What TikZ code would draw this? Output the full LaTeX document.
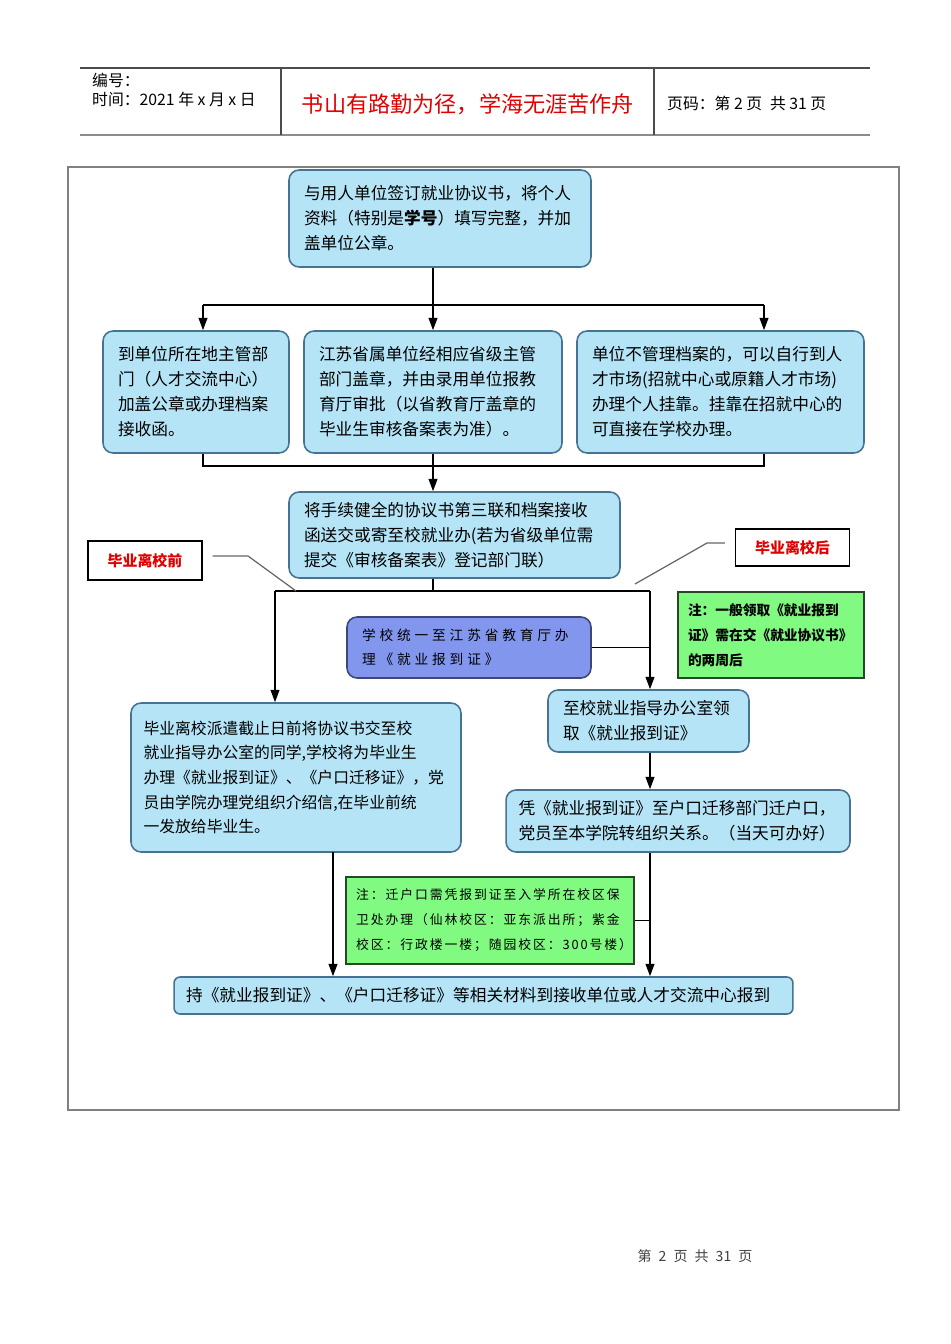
\documentclass[tikz,border=0pt]{standalone}
\usepackage{fontspec}
\setmainfont{Noto Sans CJK SC}
\newfontfamily\widefont[LetterSpace=28]{Noto Sans CJK SC}
\newfontfamily\notefont[LetterSpace=15]{Noto Sans CJK SC}
\usetikzlibrary{arrows.meta}
\definecolor{boxblue}{RGB}{180,228,246}
\definecolor{boxedge}{RGB}{70,115,145}
\definecolor{schoolblue}{RGB}{130,150,238}
\definecolor{schooledge}{RGB}{60,70,120}
\definecolor{notegreen}{RGB}{128,250,128}
\definecolor{noteedge}{RGB}{40,70,40}
\definecolor{mottored}{RGB}{225,0,0}

\begin{document}
\begin{tikzpicture}[x=0.02cm,y=-0.02cm,
  >={Triangle[length=7pt,width=5pt]},
  flow/.style={draw=boxedge, fill=boxblue, rounded corners=0.2cm, line width=0.9pt,
    align=left, inner xsep=0.3cm, font=\fontsize{9.5}{14.2}\selectfont},
  school/.style={draw=schooledge, fill=schoolblue, rounded corners=0.2cm, line width=0.9pt,
    align=left, inner xsep=0.3cm, font=\widefont\fontsize{7.8}{13.6}\selectfont},
  note/.style={draw=noteedge, fill=notegreen, line width=0.8pt, align=left, inner xsep=0.2cm},
  tag/.style={draw, fill=white, line width=0.8pt, minimum width=2.28cm, minimum height=0.78cm,
    text=mottored, font=\bfseries\fontsize{8.5}{10}\selectfont},
  head/.style={anchor=west, font=\fontsize{9}{11}\selectfont},
  link/.style={line width=0.8pt}]
\useasboundingbox (0,0) rectangle (950,1344);

% header
\draw[black!70, line width=0.6pt] (80,68) -- (870,68);
\draw[black!45, line width=1.2pt] (80,135) -- (870,135);
\draw[black!70, line width=0.6pt] (281,68) -- (281,135);
\draw[black!70, line width=0.6pt] (654,68) -- (654,135);
\node[head] (serial) at (86,80) {编号：};
\node[head] (date) at (86,99) {时间：2021 年 x 月 x 日};
\node[text=mottored, font=\fontsize{12.6}{14}\selectfont] (motto) at (468,104) {书山有路勤为径，学海无涯苦作舟};
\node[head] (pageno) at (661,103) {页码：第 2 页\enspace 共 31 页};

% frame
\draw[black!50, line width=0.7pt] (68,167) rectangle (899,1110);

% boxes
\node[flow, text width=5.44cm, minimum height=1.94cm] (sign) at (440,218.5)
  {与用人单位签订就业协议书，将个人\\资料（特别是\textbf{学号}）填写完整，并加\\盖单位公章。};
\node[flow, text width=3.12cm, minimum height=2.44cm] (local) at (196,392)
  {到单位所在地主管部\\门（人才交流中心）\\加盖公章或办理档案\\接收函。};
\node[flow, text width=4.56cm, minimum height=2.44cm] (prov) at (433,392)
  {江苏省属单位经相应省级主管\\部门盖章，并由录用单位报教\\育厅审批（以省教育厅盖章的\\毕业生审核备案表为准）。};
\node[flow, text width=5.14cm, minimum height=2.44cm] (market) at (720.5,392)
  {单位不管理档案的，可以自行到人\\才市场(招就中心或原籍人才市场)\\办理个人挂靠。挂靠在招就中心的\\可直接在学校办理。};
\node[flow, text width=6.02cm, minimum height=1.72cm] (submit) at (454.5,535)
  {将手续健全的协议书第三联和档案接收\\函送交或寄至校就业办(若为省级单位需\\提交《审核备案表》登记部门联）};

\node[tag] (before) at (145,560.5) {毕业离校前};
\node[tag, minimum height=0.74cm] (after) at (792.5,547.5) {毕业离校后};

\node[school, text width=4.28cm, minimum height=1.22cm] (school) at (469,647.5)
  {学校统一至江苏省教育厅办\\理《就业报到证》};
\node[note, text width=3.32cm, minimum height=1.72cm, font=\bfseries\fontsize{7.8}{14.2}\selectfont] (note1) at (771,635)
  {注：一般领取《就业报到\\证》需在交《就业协议书》\\的两周后};

\node[flow, text width=6.1cm, inner xsep=0.25cm, minimum height=2.98cm, font=\fontsize{9}{14}\selectfont] (leftbig) at (296,777.5)
  {毕业离校派遣截止日前将协议书交至校\\就业指导办公室的同学,学校将为毕业生\\办理《就业报到证》、《户口迁移证》，党\\员由学院办理党组织介绍信,在毕业前统\\一发放给毕业生。};
\node[flow, text width=3.42cm, minimum height=1.24cm] (fetch) at (648.5,721)
  {至校就业指导办公室领\\取《就业报到证》};
\node[flow, text width=6.38cm, inner xsep=0.25cm, minimum height=1.24cm] (hukou) at (678,821)
  {凭《就业报到证》至户口迁移部门迁户口，\\党员至本学院转组织关系。（当天可办好）};
\node[note, text width=5.36cm, minimum height=1.74cm, font=\notefont\fontsize{7.3}{14.2}\selectfont] (note2) at (490,920.5)
  {注：迁户口需凭报到证至入学所在校区保\\卫处办理（仙林校区：亚东派出所；紫金\\校区：行政楼一楼；随园校区：300号楼）};
\node[flow, text width=11.9cm, inner xsep=0.24cm, minimum height=0.74cm, rounded corners=0.12cm] (report) at (483.5,995.5)
  {持《就业报到证》、《户口迁移证》等相关材料到接收单位或人才交流中心报到};

% connectors
\coordinate (split1) at (433,305);
\coordinate (s1l) at (203,305);
\coordinate (s1r) at (764,305);
\draw[link] (sign.south -| split1) -- (split1);
\draw[link] (s1l) -- (s1r);
\draw[link,->] (s1l) -- (s1l |- local.north);
\draw[link,->] (split1) -- (prov.north);
\draw[link,->] (s1r) -- (s1r |- market.north);

\coordinate (m1l) at (203,466);
\coordinate (m1r) at (764,466);
\coordinate (merge) at (433,466);
\draw[link] (local.south -| m1l) -- (m1l) -- (m1r) -- (market.south -| m1r);
\draw[link] (prov.south) -- (merge);
\draw[link,->] (merge) -- (merge |- submit.north);

\coordinate (split2) at (433,591);
\coordinate (s2l) at (275,591);
\coordinate (s2r) at (650,591);
\draw[link] (submit.south -| split2) -- (split2);
\draw[link] (s2l) -- (s2r);
\draw[link,->] (s2l) -- (s2l |- leftbig.north);
\draw[link,->] (s2r) -- (s2r |- fetch.north);
\draw[link] (school.east) -- (school.east -| s2r);
\draw[link,->] (fetch.south -| s2r) -- (s2r |- hukou.north);

\coordinate (down) at (333,852);
\draw[link,->] (down) -- (down |- report.north);
\draw[link,->] (hukou.south -| s2r) -- (s2r |- report.north);
\draw[link] (note2.east) -- (note2.east -| s2r);

% label pointers
\coordinate (bend1) at (248,556);
\coordinate (tip1) at (296,591);
\draw[black!60, line width=0.7pt] ([xshift=0.2cm]before.east |- bend1) -- (bend1) -- (tip1);
\coordinate (bend2) at (707,543);
\coordinate (tip2) at (635,584);
\draw[black!60, line width=0.7pt] ([xshift=-0.2cm]after.west |- bend2) -- (bend2) -- (tip2);

% footer
\node[text=black!75, font=\fontsize{8}{10}\selectfont] (footer) at (695,1256) {第\enspace 2\enspace 页\enspace 共\enspace 31\enspace 页};
\end{tikzpicture}
\end{document}
